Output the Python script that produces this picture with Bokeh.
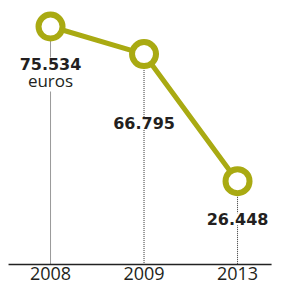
from bokeh.plotting import figure
from bokeh.models import ColumnDataSource, LabelSet, Range1d
from bokeh.core.properties import value
from bokeh.embed import file_html
from bokeh.resources import INLINE

# Data
years = ["2008", "2009", "2013"]
values = [75.534, 66.795, 26.448]
value_labels = ["75.534", "66.795", "26.448"]
unit_label = "euros"

OLIVE = "#A9AA12"
TEXT = "#231F20"

idx = list(range(len(years)))
src = ColumnDataSource(dict(
    x=idx, y=values, zero=[0] * len(idx), lab=value_labels, yr=years,
    off=[-43, -75, -44],
))

p = figure(width=285, height=285, output_backend="svg", toolbar_location=None,
           x_axis_type=None, y_axis_type=None, min_border=0,
           x_range=Range1d(-0.535, 2.513), y_range=Range1d(-6.665, 83.79))
p.outline_line_color = None
p.grid.visible = False

# dotted drop lines
p.segment(x0="x", y0="y", x1="x", y1="zero", source=src,
          line_color="#333333", line_width=1, line_dash="1 1")

# baseline axis line (spans a little beyond the first and last category)
p.segment(x0=[idx[0] - 0.449], x1=[idx[-1] + 0.364], y0=[0], y1=[0],
          line_color="#222222", line_width=1.5)

# main line and markers
p.line(x="x", y="y", source=src, line_color=OLIVE, line_width=5)
p.scatter(x="x", y="y", source=src, size=24, fill_color="white",
          line_color=OLIVE, line_width=6)

# unit label under first value
unit_src = ColumnDataSource(dict(x=[idx[0]], y=[values[0]], t=[unit_label]))
p.add_layout(LabelSet(x="x", y="y", text="t", source=unit_src, y_offset=-60,
                      text_align="center", text_baseline="alphabetic",
                      text_font=value("Open Sans"), text_font_size="17px",
                      text_color=TEXT, background_fill_color="white"))

# value labels
p.add_layout(LabelSet(x="x", y="y", text="lab", source=src, y_offset="off",
                      text_align="center", text_baseline="alphabetic",
                      text_font=value("DejaVu Sans"), text_font_style="bold",
                      text_font_size="16px", text_color=TEXT,
                      background_fill_color="white"))

# year labels (category axis)
p.add_layout(LabelSet(x="x", y="zero", text="yr", source=src, y_offset=-15,
                      text_align="center", text_baseline="alphabetic",
                      text_font=value("Open Sans"), text_font_size="18px",
                      text_color=TEXT))

open("out.html", "w").write(file_html(p, INLINE))
